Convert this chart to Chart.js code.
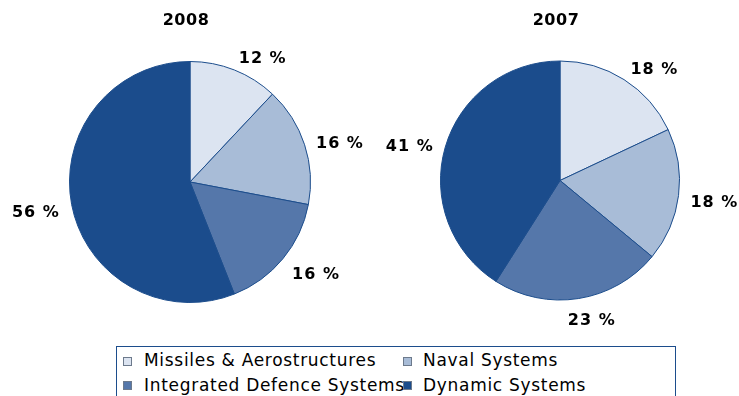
<!DOCTYPE html>
<html>
<head>
<meta charset="utf-8">
<script src="https://cdn.jsdelivr.net/npm/chart.js@4.4.1/dist/chart.umd.min.js"></script>
<style>
  html, body { margin: 0; padding: 0; background: #ffffff; }
  #wrap { position: relative; width: 739px; height: 396px; overflow: hidden; background: #fff; }
  .cv { position: absolute; top: 0; }
  #legend { position: absolute; left: 116px; top: 346px; width: 560px; height: 70px;
            border: 1px solid #1C4D8C; box-sizing: border-box; }
  .li { position: absolute; font-family: "DejaVu Sans", Verdana, sans-serif; font-size: 17px;
        letter-spacing: 0.7px; color: #000; white-space: nowrap; line-height: 17px; }
  .sw { position: absolute; width: 7px; height: 7px; border: 1px solid #6d7a8c; z-index: 2; }
</style>
</head>
<body>
<div id="wrap">
  <canvas id="c2008" class="cv" style="left:0px" width="370" height="340"></canvas>
  <canvas id="c2007" class="cv" style="left:370px" width="369" height="340"></canvas>
  <div id="legend"></div>
</div>
<script>
// ---- data ----
const categories = ["Missiles & Aerostructures", "Naval Systems", "Integrated Defence Systems", "Dynamic Systems"];
const values2008 = [12, 16, 16, 56];
const values2007 = [18, 18, 23, 41];
const years = ["2008", "2007"];
const sliceColors = ["#DCE4F1", "#A8BCD7", "#5577AA", "#1B4C8C"];

const labelPlugin = {
  id: 'outsideLabels',
  afterDatasetsDraw(chart, args, opts) {
    const ctx = chart.ctx;
    const meta = chart.getDatasetMeta(0);
    const data = chart.data.datasets[0].data;
    ctx.save();
    ctx.font = 'bold 16px "DejaVu Sans", Verdana, sans-serif';
    ctx.letterSpacing = '1px';
    ctx.fillStyle = '#000';
    ctx.textAlign = 'center';
    ctx.textBaseline = 'middle';
    meta.data.forEach((arc, i) => {
      const p = arc.getProps(['x', 'y', 'startAngle', 'endAngle', 'outerRadius'], true);
      const mid = (p.startAngle + p.endAngle) / 2;
      const c = Math.cos(mid), s = Math.sin(mid);
      const txt = data[i] + ' %';
      const w = ctx.measureText(txt).width;
      const h = 16;
      const d = p.outerRadius + 12;
      const ox = (w / 2) * Math.max(-1, Math.min(1, c * 3));
      const oy = (h / 2) * s * 0.7 + 5;
      ctx.fillText(txt, p.x + c * d + ox, p.y + s * d + oy);
    });
    // title
    const first = meta.data[0];
    ctx.font = 'bold 16px "DejaVu Sans", Verdana, sans-serif';
    ctx.letterSpacing = '0.5px';
    ctx.fillText(opts.title, first.x - 4, 21);
    ctx.restore();
  }
};

function makePie(id, values, title, pad) {
  return new Chart(document.getElementById(id), {
    type: 'pie',
    data: {
      labels: categories,
      datasets: [{
        data: values,
        backgroundColor: sliceColors,
        borderColor: '#1C4D8C',
        borderWidth: 1,
        hoverOffset: 0
      }]
    },
    options: {
      responsive: false,
      animation: false,
      events: [],
      layout: { padding: pad },
      plugins: {
        legend: { display: false },
        tooltip: { enabled: false },
        outsideLabels: { title: title }
      }
    },
    plugins: [labelPlugin]
  });
}

makePie('c2008', values2008, years[0], { left: 69, top: 61, right: 59, bottom: 37 });
makePie('c2007', values2007, years[1], { left: 70, top: 60, right: 59, bottom: 39 });

// ---- legend (HTML text) ----
const legend = document.getElementById('legend');
const legendSlots = [
  { sx: 6, sy: 10, tx: 27, ty: 5 },
  { sx: 286, sy: 10, tx: 306, ty: 5 },
  { sx: 6, sy: 34, tx: 27, ty: 30 },
  { sx: 286, sy: 34, tx: 306, ty: 30 }
];
categories.forEach((name, i) => {
  const sl = legendSlots[i];
  const sw = document.createElement('div');
  sw.className = 'sw';
  sw.style.left = sl.sx + 'px';
  sw.style.top = sl.sy + 'px';
  sw.style.background = sliceColors[i];
  legend.appendChild(sw);
  const t = document.createElement('div');
  t.className = 'li';
  t.style.left = sl.tx + 'px';
  t.style.top = sl.ty + 'px';
  t.textContent = name;
  legend.appendChild(t);
});
</script>
</body>
</html>
